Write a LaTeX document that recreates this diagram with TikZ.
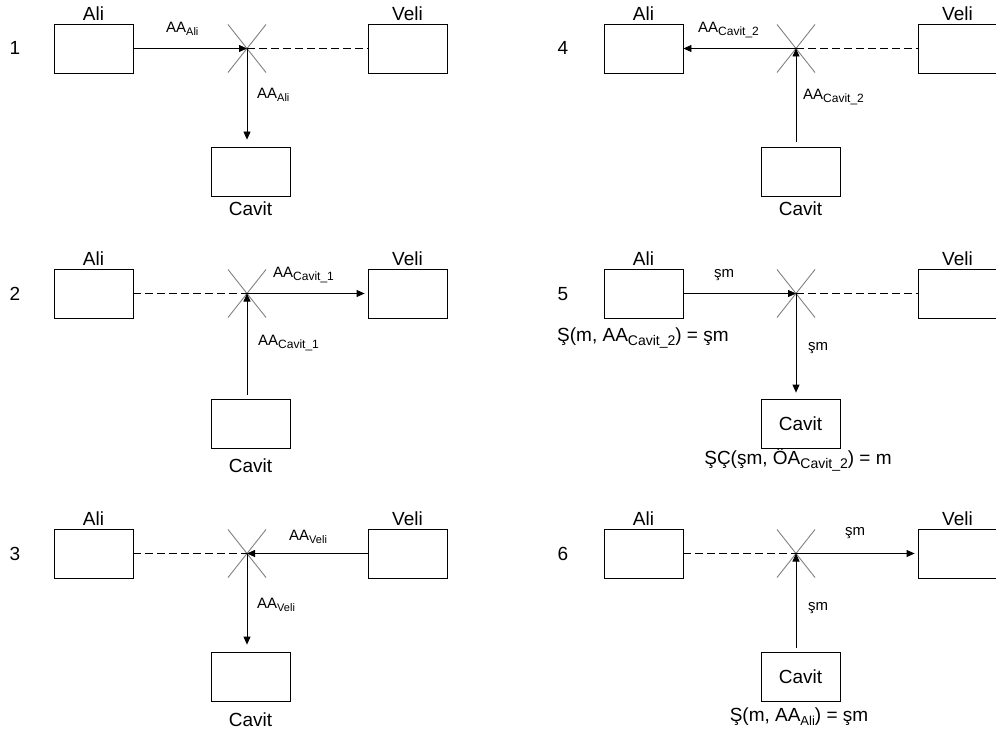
\documentclass[tikz,border=0pt]{standalone}
\usepackage{fontspec}
\setmainfont{Liberation Sans}
\usetikzlibrary{arrows.meta,calc}
\newcommand{\sbs}[3][3pt]{\raisebox{-#1}{\fontsize{#2}{#2}\selectfont #3}}
\tikzset{
  box/.style={draw, line width=0.8pt, minimum width=79pt, minimum height=49pt, inner sep=0pt, font=\fontsize{19}{22}\selectfont},
  big/.style={font=\fontsize{19}{22}\selectfont, inner sep=0pt},
  lbl/.style={font=\fontsize{15}{18}\selectfont, inner sep=0pt},
  arr/.style={line width=0.8pt, -{Triangle[length=8pt,width=7pt]}},
  dsh/.style={line width=0.8pt, dash pattern=on 8pt off 4pt},
  xm/.style={draw=black!50, line width=0.9pt}
}
\newcommand{\xmark}[1]{\draw[xm] ($(#1)+(-19,-24)$) -- ($(#1)+(19,24)$); \draw[xm] ($(#1)+(19,-24)$) -- ($(#1)+(-19,24)$);}
\begin{document}
\begin{tikzpicture}[x=1pt,y=-1pt]
\useasboundingbox (0,0) rectangle (996,738);
\clip (0,0) rectangle (996,738);
% ---------------- Panel 1 ----------------
\node[big,anchor=base] (n1) at (15,55) {1};
\node[box] (a1) at (93.5,48.5) {};
\node[box] (v1) at (407.5,48.5) {};
\node[box] (c1) at (250.5,171.5) {};
\coordinate (j1) at (247,48.5);
\node[big,anchor=base] (ta1) at ($(a1.north)+(0,-3.5)$) {Ali};
\node[big,anchor=base] (tv1) at ($(v1.north)+(0,-3.5)$) {Veli};
\node[big,anchor=base] (tc1) at (250.5,216) {Cavit};
\xmark{j1}
\draw[arr] (a1.east) -- (j1);
\draw[dsh] (j1) -- (v1.west);
\draw[arr, shorten >=7pt] (j1) -- (j1 |- c1.north);
\node[lbl,anchor=base west] (l1a) at (166,33) {AA\sbs{11}{Ali}};
\node[lbl,anchor=base west] (l1b) at (257,99) {AA\sbs{11}{Ali}};
% ---------------- Panel 2 ----------------
\node[big,anchor=base] (n2) at (15,300) {2};
\node[box] (a2) at (93.5,293.5) {};
\node[box] (v2) at (407.5,293.5) {};
\node[box] (c2) at (250.5,423.5) {};
\coordinate (j2) at (247,293.5);
\node[big,anchor=base] (ta2) at ($(a2.north)+(0,-3.5)$) {Ali};
\node[big,anchor=base] (tv2) at ($(v2.north)+(0,-3.5)$) {Veli};
\node[big,anchor=base] (tc2) at (250.5,472) {Cavit};
\xmark{j2}
\draw[dsh] (a2.east) -- (j2);
\draw[arr, shorten >=3pt] (j2) -- (v2.west);
\draw[arr, shorten <=4pt] (j2 |- c2.north) -- (j2);
\node[lbl,anchor=base west] (l2a) at (273,277) {AA\sbs{12}{Cavit\_1}};
\node[lbl,anchor=base west] (l2b) at (258,345) {AA\sbs{12}{Cavit\_1}};
% ---------------- Panel 3 ----------------
\node[big,anchor=base] (n3) at (15,560) {3};
\node[box] (a3) at (93.5,553.5) {};
\node[box] (v3) at (407.5,553.5) {};
\node[box] (c3) at (250.5,676.5) {};
\coordinate (j3) at (247,553.5);
\node[big,anchor=base] (ta3) at ($(a3.north)+(0,-3.5)$) {Ali};
\node[big,anchor=base] (tv3) at ($(v3.north)+(0,-3.5)$) {Veli};
\node[big,anchor=base] (tc3) at (250.5,726) {Cavit};
\xmark{j3}
\draw[dsh] (a3.east) -- (j3);
\draw[arr] (v3.west) -- (j3);
\draw[arr, shorten >=7pt] (j3) -- (j3 |- c3.north);
\node[lbl,anchor=base west] (l3a) at (289,540) {AA\sbs{11}{Veli}};
\node[lbl,anchor=base west] (l3b) at (257,608) {AA\sbs{11}{Veli}};
% ---------------- Panel 4 ----------------
\node[big,anchor=base] (n4) at (563,55) {4};
\node[box] (a4) at (643.5,48.5) {};
\node[box] (v4) at (957.5,48.5) {};
\node[box] (c4) at (800.5,171.5) {};
\coordinate (j4) at (796,48.5);
\node[big,anchor=base] (ta4) at ($(a4.north)+(0,-3.5)$) {Ali};
\node[big,anchor=base] (tv4) at ($(v4.north)+(0,-3.5)$) {Veli};
\node[big,anchor=base] (tc4) at (800.5,216) {Cavit};
\xmark{j4}
\draw[arr] (j4) -- (a4.east);
\draw[dsh] (j4) -- (v4.west);
\draw[arr, shorten <=5pt] (j4 |- c4.north) -- (j4);
\node[lbl,anchor=base west] (l4a) at (698,33) {AA\sbs{12}{Cavit\_2}};
\node[lbl,anchor=base west] (l4b) at (803,100) {AA\sbs{12}{Cavit\_2}};
% ---------------- Panel 5 ----------------
\node[big,anchor=base] (n5) at (563,300) {5};
\node[box] (a5) at (643.5,293.5) {};
\node[box] (v5) at (957.5,293.5) {};
\node[box] (c5) at (800.5,423.5) {Cavit};
\coordinate (j5) at (796,293.5);
\node[big,anchor=base] (ta5) at ($(a5.north)+(0,-3.5)$) {Ali};
\node[big,anchor=base] (tv5) at ($(v5.north)+(0,-3.5)$) {Veli};
\xmark{j5}
\draw[arr] (a5.east) -- (j5);
\draw[dsh] (j5) -- (v5.west);
\draw[arr, shorten >=6pt] (j5) -- (j5 |- c5.north);
\node[lbl,anchor=base west] (l5a) at (714,277) {şm};
\node[lbl,anchor=base west] (l5b) at (808,350) {şm};
\node[big,anchor=base west] (f5a) at (557,341) {Ş(m, AA\sbs[4pt]{14}{Cavit\_2}) = şm};
\node[big,anchor=base] (f5b) at (798,464) {ŞÇ(şm, ÖA\sbs[4pt]{14}{Cavit\_2}) = m};
% ---------------- Panel 6 ----------------
\node[big,anchor=base] (n6) at (563,560) {6};
\node[box] (a6) at (643.5,553.5) {};
\node[box] (v6) at (957.5,553.5) {};
\node[box] (c6) at (800.5,676.5) {Cavit};
\coordinate (j6) at (796,553.5);
\node[big,anchor=base] (ta6) at ($(a6.north)+(0,-3.5)$) {Ali};
\node[big,anchor=base] (tv6) at ($(v6.north)+(0,-3.5)$) {Veli};
\xmark{j6}
\draw[dsh] (a6.east) -- (j6);
\draw[arr, shorten >=3pt] (j6) -- (v6.west);
\draw[arr, shorten <=4pt] (j6 |- c6.north) -- (j6);
\node[lbl,anchor=base west] (l6a) at (845,535) {şm};
\node[lbl,anchor=base west] (l6b) at (808,610) {şm};
\node[big,anchor=base] (f6) at (799,721) {Ş(m, AA\sbs[4pt]{13}{Ali}) = şm};
\end{tikzpicture}
\end{document}
